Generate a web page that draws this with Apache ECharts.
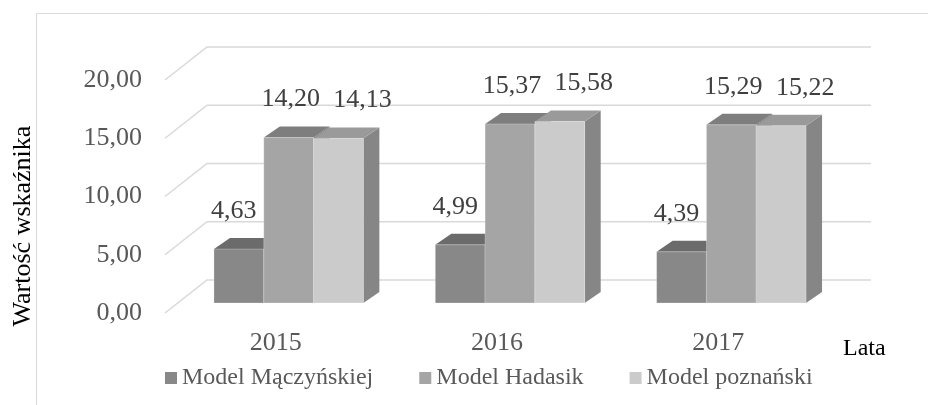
<!DOCTYPE html>
<html>
<head>
<meta charset="utf-8">
<script src="https://cdn.jsdelivr.net/npm/echarts@6/dist/echarts.min.js"></script>
<style>
html, body { margin: 0; padding: 0; background: #fff; }
#chart { width: 928px; height: 405px; }
</style>
</head>
<body>
<div id="chart"></div>
<script>
var years = ["2015", "2016", "2017"];
var seriesNames = ["Model Mączyńskiej", "Model Hadasik", "Model poznański"];
var valMaczynskiej = [4.63, 4.99, 4.39];
var valHadasik = [14.20, 15.37, 15.29];
var valPoznanski = [14.13, 15.58, 15.22];
var yTicks = [0, 5, 10, 15, 20];

var FONT = "Liberation Serif";
var frontColors = ["#888888", "#a5a5a5", "#cbcbcb"];
var topColors = ["#6b6b6b", "#7e7e7e", "#9a9a9a"];
var sideColors = ["#707070", "#858585", "#868686"];
var labelShift = [-5, 2, 24];

// fake 3d depth, in pixels
var FLOOR_DX = 42, FLOOR_DY = 33;
var BAR_IN_DX = 13, BAR_IN_DY = 10;
var BAR_DX = 16, BAR_DY = 11;

function fmt(v) {
    return v.toFixed(2).replace(".", ",");
}

function toData(arr) {
    var out = [];
    for (var i = 0; i < arr.length; i++) out.push([i, arr[i]]);
    return out;
}

function barRender(k) {
    return function (params, api) {
        var i = api.value(0);
        var v = api.value(1);
        var band = api.size([1, 0])[0];
        var w = band * 0.225;
        var base = api.coord([i, 0]);
        var top = api.coord([i, v]);
        var x0 = base[0] + BAR_IN_DX + (k - 1.5) * w;
        var x1 = x0 + w;
        var yb = base[1] - BAR_IN_DY;
        var yt = top[1] - BAR_IN_DY;
        return {
            type: "group",
            children: [
                {
                    type: "polygon",
                    shape: { points: [[x1, yt], [x1 + BAR_DX, yt - BAR_DY], [x1 + BAR_DX, yb - BAR_DY], [x1, yb]] },
                    style: { fill: sideColors[k] }
                },
                {
                    type: "polygon",
                    shape: { points: [[x0, yt], [x1, yt], [x1 + BAR_DX, yt - BAR_DY], [x0 + BAR_DX, yt - BAR_DY]] },
                    style: { fill: topColors[k] }
                },
                {
                    type: "rect",
                    shape: { x: x0, y: yt, width: w, height: yb - yt },
                    style: { fill: frontColors[k], stroke: "rgba(255,255,255,0.25)", lineWidth: 1 }
                },
                {
                    type: "text",
                    x: x0 + w / 2 + labelShift[k],
                    y: yt - BAR_DY - 27,
                    z2: 10,
                    style: {
                        text: fmt(v),
                        fontFamily: FONT,
                        fontSize: 26,
                        fill: "#404040",
                        align: "center",
                        verticalAlign: "middle"
                    }
                }
            ]
        };
    };
}

function wallRender(params, api) {
    var cs = params.coordSys;
    var y = api.coord([0, api.value(1)])[1];
    return {
        type: "polyline",
        shape: { points: [[cs.x, y], [cs.x + FLOOR_DX, y - FLOOR_DY], [cs.x + cs.width + FLOOR_DX, y - FLOOR_DY]] },
        style: { stroke: "#d9d9d9", lineWidth: 1.5, fill: null }
    };
}

var chart = echarts.init(document.getElementById("chart"));

var wallData = [];
for (var t = 0; t < yTicks.length; t++) wallData.push([0, yTicks[t]]);

var option = {
    animation: false,
    backgroundColor: "#fff",
    grid: { left: 165, top: 80, width: 664, height: 233 },
    legend: {
        data: seriesNames,
        left: 160,
        top: 361,
        icon: "rect",
        itemWidth: 12,
        itemHeight: 12,
        itemGap: 46,
        textStyle: { fontFamily: FONT, fontSize: 24, color: "#595959" }
    },
    xAxis: {
        type: "category",
        data: years,
        axisLine: { show: false },
        axisTick: { show: false },
        axisLabel: { fontFamily: FONT, fontSize: 26, color: "#595959", margin: 17 },
        name: "Lata",
        nameLocation: "end",
        nameGap: 14,
        nameTextStyle: { fontFamily: FONT, fontSize: 24, color: "#000", align: "left", verticalAlign: "top", padding: [24, 0, 0, 0] }
    },
    yAxis: {
        type: "value",
        min: 0,
        max: 20,
        interval: 5,
        axisLine: { show: false },
        axisTick: { show: false },
        splitLine: { show: false },
        axisLabel: { fontFamily: FONT, fontSize: 26, color: "#595959", margin: 23, formatter: fmt }
    },
    graphic: [
        {
            type: "rect",
            x: 36.5, y: 13.5,
            shape: { x: 0, y: 0, width: 1000, height: 500 },
            style: { fill: null, stroke: "#d9d9d9", lineWidth: 1 },
            silent: true,
            z: -10
        },
        {
            type: "text",
            x: 23, y: 226,
            rotation: Math.PI / 2,
            style: {
                text: "Wartość wskaźnika",
                fontFamily: FONT,
                fontSize: 26,
                fill: "#000",
                align: "center",
                verticalAlign: "middle"
            }
        }
    ],
    series: [
        { type: "custom", name: "walls", data: wallData, encode: { x: 0, y: 1 }, renderItem: wallRender, silent: true, z: 1 },
        { type: "custom", name: seriesNames[0], data: toData(valMaczynskiej), encode: { x: 0, y: 1 }, renderItem: barRender(0), itemStyle: { color: frontColors[0] }, z: 2 },
        { type: "custom", name: seriesNames[1], data: toData(valHadasik), encode: { x: 0, y: 1 }, renderItem: barRender(1), itemStyle: { color: frontColors[1] }, z: 3 },
        { type: "custom", name: seriesNames[2], data: toData(valPoznanski), encode: { x: 0, y: 1 }, renderItem: barRender(2), itemStyle: { color: frontColors[2] }, z: 4 }
    ]
};

chart.setOption(option);
</script>
</body>
</html>
